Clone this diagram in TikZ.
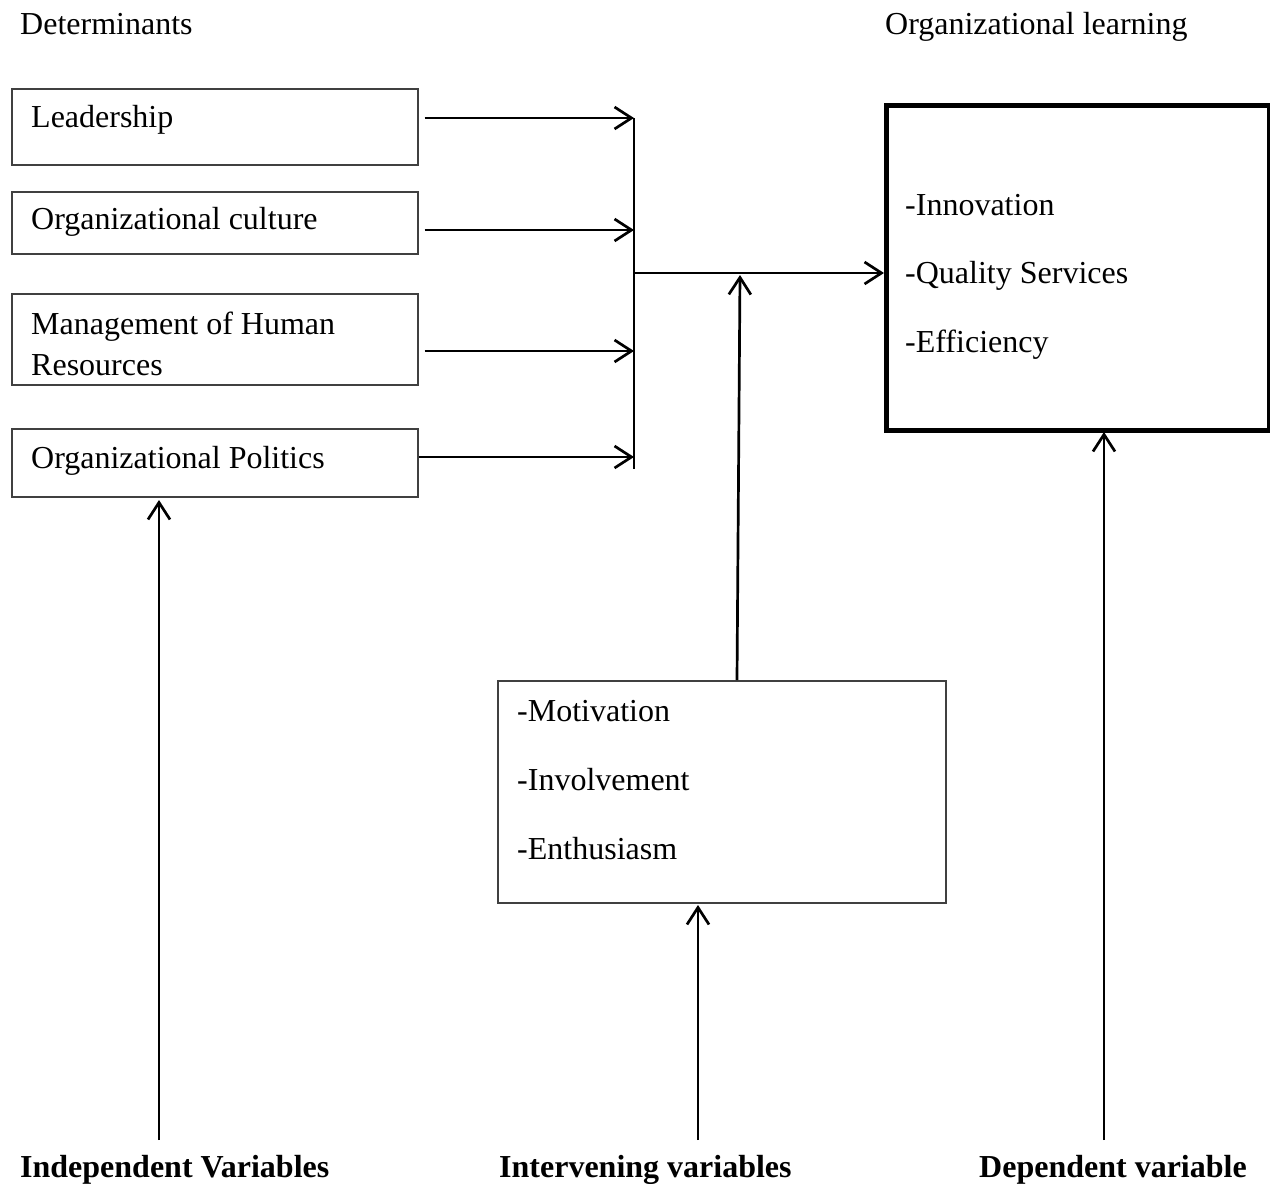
\documentclass[tikz,border=0pt]{standalone}
\usepackage{fontspec}
\setmainfont{Liberation Serif}
\usetikzlibrary{arrows.meta,calc}
\begin{document}
\begin{tikzpicture}[x=1pt,y=-1pt,
  txt/.style={anchor=base west,inner sep=0pt,font=\fontsize{32}{38}\selectfont},
  btxt/.style={anchor=base west,inner sep=0pt,font=\fontsize{32}{38}\selectfont\bfseries},
  box/.style={draw=black!75,line width=1.5pt,anchor=north west,inner sep=0pt},
  bigbox/.style={draw=black,line width=5pt,anchor=north west,inner sep=0pt},
  conn/.style={line width=2.7pt,-{Straight Barb[length=17pt,width=22pt,line width=2.7pt]}},
  bar/.style={line width=2pt}]
\useasboundingbox (0,0) rectangle (1270,1184);
% headings
\node[txt] (det) at (20,34) {Determinants};
\node[txt] (orgl) at (885,34) {Organizational learning};
% determinant boxes
\node[box,minimum width=406pt,minimum height=76pt] (b1) at (11,88) {};
\node[txt] (t1) at (31,127) {Leadership};
\node[box,minimum width=406pt,minimum height=62pt] (b2) at (11,191) {};
\node[txt] (t2) at (31,229) {Organizational culture};
\node[box,minimum width=406pt,minimum height=91pt] (b3) at (11,293) {};
\node[txt] (t3a) at (31,334) {Management of Human};
\node[txt] (t3b) at (31,375) {Resources};
\node[box,minimum width=406pt,minimum height=68pt] (b4) at (11,428) {};
\node[txt] (t4) at (31,468) {Organizational Politics};
% collector bar
\coordinate (bartop) at (634,118);
\coordinate (barbot) at (634,469);
\coordinate (join) at (634,273);
\draw[bar] (bartop) -- (barbot);
\draw[conn] ($(b1.north east)+(6,30)$) -- (bartop |- 0,118);
\draw[conn] ($(b2.north east)+(6,39)$) -- (bartop |- 0,230);
\draw[conn] ($(b3.north east)+(6,58)$) -- (bartop |- 0,351);
\draw[conn] ($(b4.north east)+(0,29)$) -- (bartop |- 0,457);
% dependent box
\node[bigbox,minimum width=383pt,minimum height=325pt] (dep) at (884,103) {};
\node[txt] (d1) at (905,215) {-Innovation};
\node[txt] (d2) at (905,283) {-Quality Services};
\node[txt] (d3) at (905,352) {-Efficiency};
\draw[conn] (join) -- (dep.west |- join);
% intervening box
\node[box,minimum width=448pt,minimum height=222pt] (int) at (497,680) {};
\node[txt] (i1) at (517,721) {-Motivation};
\node[txt] (i2) at (517,790) {-Involvement};
\node[txt] (i3) at (517,859) {-Enthusiasm};
\coordinate (modtip) at (740,275);
\draw[conn] (int.north west -| 737,0) -- (modtip);
% bottom labels
\node[btxt] (l1) at (20,1177) {Independent Variables};
\node[btxt] (l2) at (499,1177) {Intervening variables};
\node[btxt] (l3) at (979,1177) {Dependent variable};
\coordinate (s1) at (159,1140);
\coordinate (s2) at (698,1140);
\coordinate (s3) at (1104,1140);
\draw[conn] (s1) -- (s1 |- 0,500);
\draw[conn] (s2) -- (s2 |- 0,905);
\draw[conn] (s3) -- (s3 |- 0,432);
\end{tikzpicture}
\end{document}
